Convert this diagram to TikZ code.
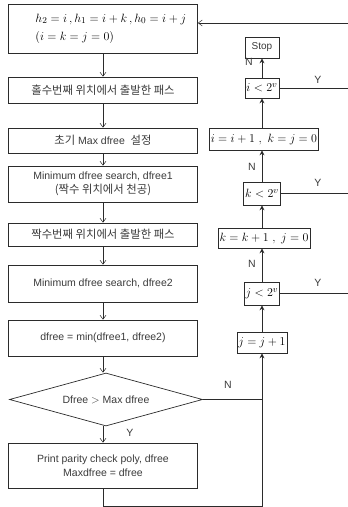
\documentclass[tikz,border=0pt]{standalone}
\usepackage{fontspec}
\setmainfont{Liberation Sans}
\newfontfamily\kofont[Scale=1.08]{Noto Sans CJK KR}
\usepackage{tikz}
\usetikzlibrary{arrows.meta, positioning, shapes.geometric, calc}
\definecolor{fcLine}{HTML}{2B2B2B}
\definecolor{fcText}{HTML}{3A3A3A}

\begin{document}
\begin{tikzpicture}[x=1pt, y=-1pt,
  box/.style={draw=fcLine, line width=0.7pt, align=center, text=fcText,
              font=\fontsize{10.5}{13.5}\selectfont, minimum width=189pt,
              minimum height=#1, inner sep=2pt},
  cbox/.style={draw=fcLine, line width=0.7pt, inner sep=1.5pt,
               font=\fontsize{13}{15}\selectfont, minimum height=#1},
  dec/.style={draw=fcLine, line width=0.7pt, diamond, aspect=3.65,
              inner sep=0pt, minimum width=193pt, minimum height=53pt,
              text=fcText, font=\fontsize{10.5}{13}\selectfont},
  down/.style={-{Straight Barb[length=4pt,width=6pt]}, fcLine, line width=0.5pt},
  up/.style={-{Stealth[length=5pt,width=5pt]}, fcLine, line width=0.9pt},
  wire/.style={fcLine, line width=0.7pt},
  lbl/.style={text=fcText, font=\fontsize{10.5}{12}\selectfont, inner sep=0pt}
]
  \useasboundingbox (0,0) rectangle (348,507);

  % left column
  \node[box=49pt, align=left, text width=183pt, text=black,
        font=\fontsize{13}{18}\selectfont] (b1) at (103,28.5)
    {\hspace*{24pt}$h_2=i\,,h_1=i+k\,,h_0=i+j$\\\hspace*{24pt}$(i=k=j=0)$};
  \node[box=26pt] (b2) at (103,90) {\kofont 홀수번째 위치에서 출발한 패스};
  \node[box=25pt] (b3) at (103,140.5) {{\kofont 초기} Max dfree\ \ {\kofont 설정}};
  \node[box=36pt] (b4) at (103,184) {Minimum dfree search, dfree1\\{\kofont (짝수 위치에서 천공)}};
  \node[box=23pt] (b5) at (103,234.5) {\kofont 짝수번째 위치에서 출발한 패스};
  \node[box=37pt] (b6) at (103,283.5) {Minimum dfree search, dfree2};
  \node[box=36pt] (b7) at (103,338) {dfree = min(dfree1, dfree2)};
  \node[dec] (dia) at (106,399.5) {Dfree $>$ Max dfree};
  \node[box=45pt] (b8) at (103,465.5) {Print parity check poly, dfree\\Maxdfree = dfree};

  \draw[down] (b1) -- (b2);
  \draw[down] (b2) -- (b3);
  \draw[down] (b3) -- (b4);
  \draw[down] (b4) -- (b5);
  \draw[down] (b5) -- (b6);
  \draw[down] (b6) -- (b7);
  \draw[down] (b7.south) -- (b7.south |- dia.north);
  \draw[down] (dia.south -| b8.north) -- (b8);
  \node[lbl] (dy) at (130,433) {Y};

  % right column
  \node[draw=fcLine, line width=0.7pt, minimum width=34pt, minimum height=21pt,
        inner sep=1pt, text=fcText, font=\fontsize{10}{12}\selectfont] (stop) at (262,47.5) {Stop};
  \node[cbox=20pt] (ci) at (262,88) {$i<2^v$};
  \node[cbox=22pt] (ui) at (264,139) {$i=i+1\ ,\ k=j=0$};
  \node[cbox=23pt] (ck) at (262,193.5) {$k<2^v$};
  \node[cbox=20pt] (uk) at (264,238) {$k=k+1\ ,\ j=0$};
  \node[cbox=23pt] (cj) at (262,293.5) {$j<2^v$};
  \node[cbox=21pt] (uj) at (262,342.5) {$j=j+1$};

  \draw[up] (ci) -- (stop);
  \draw[up] (ui.north -| ci) -- (ci);
  \draw[up] (ck) -- (ui.south -| ck);
  \draw[up] (uk.north -| ck) -- (ck);
  \draw[up] (cj) -- (uk.south -| cj);
  \draw[up] (uj) -- (cj);

  \node[lbl] (ni) at (249,62) {N};
  \node[lbl] (nk) at (252,167) {N};
  \node[lbl] (nj) at (252,264) {N};
  \node[lbl] (yi) at (318,80) {Y};
  \node[lbl] (yk) at (318,183) {Y};
  \node[lbl] (yj) at (318,283) {Y};
  \node[lbl] (nd) at (228,385) {N};

  % return paths
  \coordinate (rt) at (348,23);
  \coordinate (lp) at (262,506);
  \draw[wire] (ci.east) -- (ci.east -| rt);
  \draw[wire] (ck.east) -- (ck.east -| rt);
  \draw[wire] (cj.east) -- (cj.east -| rt);
  \draw[wire] (rt) -- (cj.east -| rt);
  \draw[down] (rt) -- (b1.east |- rt);
  \draw[wire] (dia.east) -- (dia.east -| lp);
  \draw[up] (b8.south) -- (b8.south |- lp) -- (lp) -- (uj.south);
\end{tikzpicture}
\end{document}
